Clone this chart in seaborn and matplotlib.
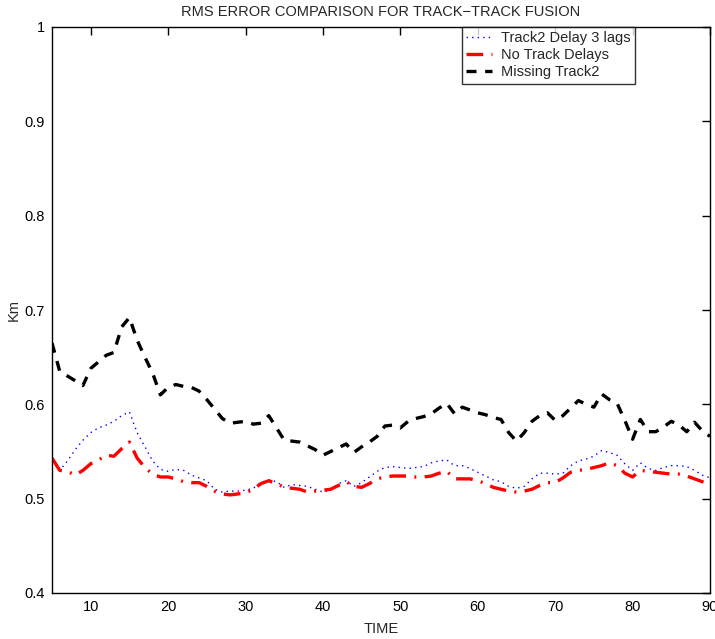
import numpy as np
import pandas as pd
import matplotlib
matplotlib.use("Agg")
import matplotlib.pyplot as plt
import seaborn as sns

time = list(range(5, 91))

delay3 = [0.540, 0.530, 0.540, 0.552, 0.562, 0.570, 0.575, 0.578, 0.582, 0.588,
          0.592, 0.570, 0.555, 0.540, 0.531, 0.529, 0.531, 0.530, 0.525, 0.522,
          0.519, 0.510, 0.507, 0.508, 0.508, 0.509, 0.511, 0.517, 0.520, 0.518,
          0.512, 0.515, 0.514, 0.513, 0.510, 0.507, 0.509, 0.516, 0.519, 0.513,
          0.517, 0.523, 0.529, 0.533, 0.534, 0.533, 0.532, 0.533, 0.534, 0.538,
          0.540, 0.541, 0.535, 0.535, 0.532, 0.528, 0.524, 0.520, 0.518, 0.513,
          0.511, 0.513, 0.521, 0.527, 0.527, 0.526, 0.527, 0.535, 0.540, 0.542,
          0.545, 0.551, 0.549, 0.546, 0.537, 0.530, 0.538, 0.532, 0.530, 0.533,
          0.535, 0.535, 0.534, 0.530, 0.525, 0.522]

no_delay = [0.543, 0.530, 0.529, 0.525, 0.530, 0.537, 0.541, 0.546, 0.545, 0.553,
            0.560, 0.543, 0.533, 0.526, 0.523, 0.523, 0.521, 0.518, 0.517, 0.517,
            0.513, 0.508, 0.505, 0.504, 0.505, 0.506, 0.510, 0.516, 0.519, 0.516,
            0.512, 0.511, 0.510, 0.507, 0.508, 0.509, 0.510, 0.514, 0.518, 0.513,
            0.512, 0.516, 0.521, 0.523, 0.524, 0.524, 0.524, 0.523, 0.523, 0.524,
            0.527, 0.529, 0.521, 0.521, 0.521, 0.519, 0.516, 0.512, 0.510, 0.508,
            0.507, 0.508, 0.510, 0.514, 0.517, 0.517, 0.522, 0.528, 0.530, 0.531,
            0.533, 0.535, 0.538, 0.535, 0.527, 0.523, 0.530, 0.529, 0.528, 0.527,
            0.526, 0.526, 0.524, 0.521, 0.518, 0.515]

missing2 = [0.665, 0.635, 0.630, 0.625, 0.620, 0.638, 0.645, 0.652, 0.655, 0.682,
            0.692, 0.668, 0.650, 0.633, 0.610, 0.618, 0.621, 0.619, 0.618, 0.614,
            0.605, 0.595, 0.585, 0.580, 0.581, 0.582, 0.579, 0.580, 0.588, 0.575,
            0.562, 0.561, 0.560, 0.556, 0.552, 0.546, 0.550, 0.554, 0.558, 0.549,
            0.555, 0.560, 0.566, 0.577, 0.578, 0.575, 0.582, 0.585, 0.587, 0.590,
            0.596, 0.601, 0.590, 0.597, 0.594, 0.591, 0.589, 0.586, 0.584, 0.570,
            0.561, 0.570, 0.582, 0.588, 0.591, 0.583, 0.588, 0.596, 0.604, 0.600,
            0.597, 0.611, 0.605, 0.601, 0.583, 0.563, 0.584, 0.571, 0.571, 0.576,
            0.582, 0.578, 0.571, 0.581, 0.572, 0.566]

series_names = ["Track2 Delay 3 lags", "No Track Delays", "Missing Track2"]
x_ticks = [10, 20, 30, 40, 50, 60, 70, 80, 90]
y_ticks = [0.4, 0.5, 0.6, 0.7, 0.8, 0.9, 1.0]
y_tick_labels = ["0.4", "0.5", "0.6", "0.7", "0.8", "0.9", "1"]

df = pd.DataFrame({
    "TIME": time * 3,
    "Km": delay3 + no_delay + missing2,
    "series": [series_names[0]] * len(time) + [series_names[1]] * len(time) + [series_names[2]] * len(time),
})

sns.set_theme(style="white")
plt.rcParams['font.family'] = ['Liberation Sans', 'DejaVu Sans']

fig = plt.figure(figsize=(7.15, 6.39), dpi=100)
ax = fig.add_axes([52 / 715, 46 / 639, 658 / 715, 566 / 639])

palette = {series_names[0]: "#0000ff", series_names[1]: "#ff0000", series_names[2]: "#000000"}
styles = {
    series_names[0]: dict(linestyle=(0, (1, 3)), linewidth=1.0),
    series_names[1]: dict(linestyle=(0, (5, 2.5, 0.6, 2.5)), linewidth=2.4),
    series_names[2]: dict(linestyle=(0, (3, 2.6)), linewidth=2.4),
}

for name in series_names:
    sub = df[df["series"] == name]
    sns.lineplot(data=sub, x="TIME", y="Km", ax=ax, color=palette[name],
                 label=name, estimator=None, **styles[name])

ax.set_xlim(5, 90)
ax.set_ylim(0.4, 1.0)
ax.set_xticks(x_ticks)
ax.set_yticks(y_ticks)
ax.set_yticklabels(y_tick_labels)
ax.tick_params(direction="in", length=6, width=1, top=True, right=True,
               labelsize=10.5, colors="black", pad=5)
for sp in ax.spines.values():
    sp.set_visible(True)
    sp.set_color("black")
    sp.set_linewidth(1.0)

ax.set_xlabel("TIME", fontsize=10.5, labelpad=6)
ax.set_ylabel("Km", fontsize=10.5, labelpad=3)
ax.set_title("RMS ERROR COMPARISON FOR TRACK\u2212TRACK FUSION", fontsize=10.5, pad=8)

leg = ax.legend(loc="upper left", bbox_to_anchor=((462 - 52) / 658, 1.0),
                borderaxespad=0, frameon=True, fancybox=False, fontsize=10.5,
                handlelength=1.75, handletextpad=0.6, borderpad=0.3,
                labelspacing=0.2)
leg.get_frame().set_edgecolor("black")
leg.get_frame().set_linewidth(1.0)

fig.savefig("out.png", dpi=100)
